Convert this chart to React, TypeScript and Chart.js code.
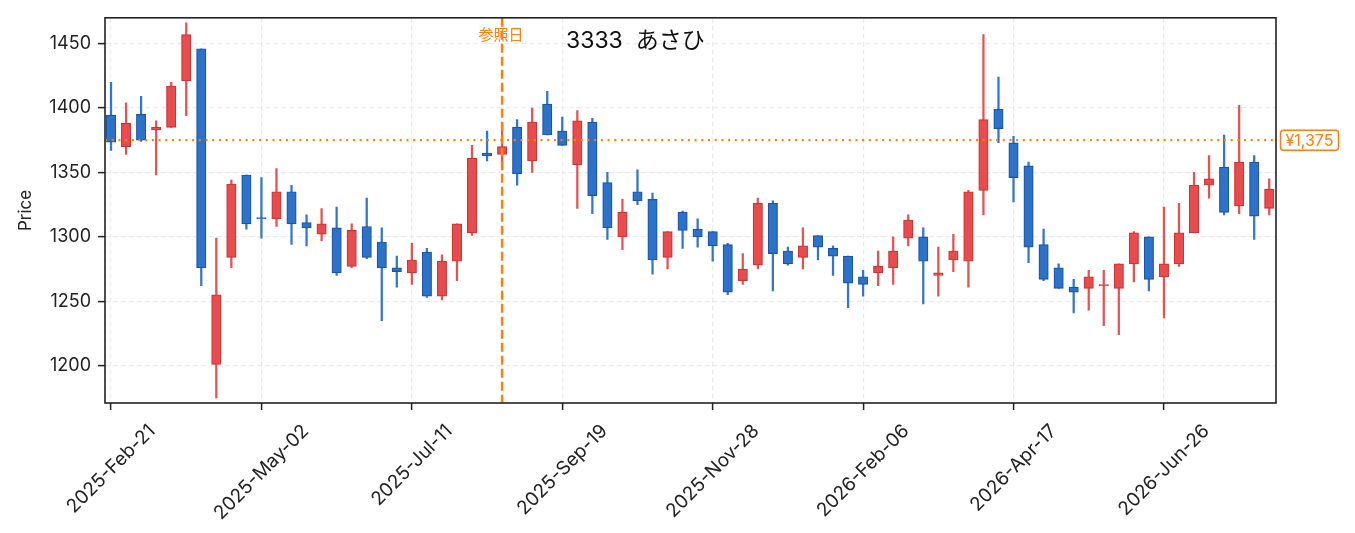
import { useEffect, useRef } from "react";
import { Chart, registerables } from "chart.js";

Chart.register(...registerables);

// weekly candles, 2025-02-21 .. 2026-08-14
const opens = [
  1394.5, 1370, 1395, 1383, 1385, 1421, 1446, 1201, 1284, 1348,
  1315, 1314, 1335, 1311, 1302, 1307, 1277, 1308, 1296, 1276,
  1272, 1288, 1254, 1281, 1303, 1365, 1364, 1385, 1359, 1403,
  1382, 1356, 1389, 1342, 1300, 1335, 1329, 1284, 1319, 1306,
  1304, 1294, 1266, 1278, 1326, 1289, 1284, 1301, 1291, 1285,
  1269, 1272, 1276, 1299, 1300, 1270, 1282, 1281, 1336, 1399,
  1373, 1355, 1294, 1276, 1261, 1260, 1262, 1260, 1279, 1300,
  1269, 1279, 1303, 1340, 1354, 1324, 1358, 1322,
];
const highs = [
  1420, 1404, 1409, 1390, 1420, 1466, 1446, 1299, 1344, 1348,
  1346, 1353, 1340, 1317, 1322, 1323, 1310, 1330, 1307, 1285,
  1295, 1291, 1286, 1310, 1371, 1382, 1388, 1391, 1400, 1413,
  1393, 1398, 1392, 1350, 1329, 1352, 1334, 1304, 1320, 1314,
  1304, 1295, 1287, 1330, 1328, 1292, 1307, 1301, 1293, 1285,
  1274, 1289, 1300, 1317, 1307, 1292, 1302, 1336, 1457, 1424,
  1378, 1358, 1306, 1279, 1267, 1274, 1274, 1279, 1304, 1300,
  1323, 1326, 1350, 1363, 1379, 1402, 1363, 1345,
];
const lows = [
  1367, 1364, 1374, 1348, 1385, 1394, 1262, 1175, 1276, 1306,
  1299, 1308, 1294, 1293, 1297, 1270, 1276, 1283, 1235, 1261,
  1263, 1253, 1251, 1266, 1301, 1359, 1352, 1340, 1350, 1379,
  1371, 1322, 1318, 1298, 1290, 1325, 1271, 1275, 1291, 1292,
  1281, 1255, 1263, 1275, 1258, 1278, 1275, 1282, 1270, 1245,
  1254, 1262, 1263, 1293, 1248, 1254, 1273, 1261, 1317, 1373,
  1327, 1280, 1266, 1260, 1241, 1243, 1231, 1224, 1265, 1258,
  1237, 1277, 1303, 1330, 1317, 1318, 1298, 1317,
];
const closes = [
  1373.5, 1388, 1375, 1385, 1417, 1457, 1276, 1255, 1341, 1310,
  1314, 1335, 1310, 1307, 1310, 1272, 1305, 1284, 1276, 1273,
  1282, 1254, 1281, 1310, 1361, 1363, 1370, 1349, 1389, 1379,
  1371, 1390, 1332, 1307, 1319, 1328, 1282, 1304, 1305, 1300,
  1293, 1257, 1275, 1326, 1287, 1279, 1293, 1292, 1285, 1264,
  1263, 1277, 1289, 1313, 1281, 1272, 1289, 1335, 1391, 1384,
  1346, 1292, 1267, 1260, 1257, 1269, 1263, 1279, 1303, 1267,
  1279, 1303, 1340, 1345, 1319, 1358, 1316, 1337,
];

const tickIndex = [0, 10, 20, 30, 40, 50, 60, 70];
const tickLabels = [
  "2025-Feb-21", "2025-May-02", "2025-Jul-11", "2025-Sep-19",
  "2025-Nov-28", "2026-Feb-06", "2026-Apr-17", "2026-Jun-26",
];
const yTicks = [1200, 1250, 1300, 1350, 1400, 1450];

const refIndex = 26;
const refPrice = 1375;
const refLabel = "参照日";
const priceLabel = "¥1,375";
const title = "3333  あさひ";

const FONT = '"Inter", "Noto Sans CJK JP", sans-serif';
const ORANGE = "#ff7f0e";
const INK = "#222222";

const overlay = {
  id: "overlay",
  afterDraw(chart: any) {
    const { ctx, chartArea: a, scales } = chart;
    const xs = scales.x;
    const ys = scales.y;
    ctx.save();

    // reference price line
    const yr = ys.getPixelForValue(refPrice);
    ctx.strokeStyle = ORANGE;
    ctx.lineWidth = 2.2;
    ctx.setLineDash([2, 4.7]);
    ctx.beginPath();
    ctx.moveTo(a.left, yr);
    ctx.lineTo(a.right, yr);
    ctx.stroke();

    // reference date line
    const xr = xs.getPixelForValue(refIndex);
    ctx.lineWidth = 2.5;
    ctx.setLineDash([9, 4]);
    ctx.beginPath();
    ctx.moveTo(xr, a.top);
    ctx.lineTo(xr, a.bottom);
    ctx.stroke();
    ctx.setLineDash([]);

    ctx.fillStyle = ORANGE;
    ctx.font = `15px ${FONT}`;
    ctx.textAlign = "center";
    ctx.textBaseline = "middle";
    ctx.fillText(refLabel, xr - 1, 35);

    // title
    ctx.fillStyle = "#111";
    ctx.font = `23px ${FONT}`;
    ctx.textAlign = "left";
    ctx.fillText(title, 566, 41);

    // frame
    ctx.strokeStyle = INK;
    ctx.lineWidth = 1.6;
    ctx.strokeRect(a.left, a.top, a.right - a.left, a.bottom - a.top);

    // price box
    ctx.font = `16px ${FONT}`;
    const tw = ctx.measureText(priceLabel).width;
    const bx = a.right + 4.5;
    const bw = tw + 10;
    const bh = 20;
    ctx.fillStyle = "#fff";
    ctx.strokeStyle = ORANGE;
    ctx.lineWidth = 1.5;
    ctx.beginPath();
    ctx.roundRect(bx, yr - bh / 2, bw, bh, 3);
    ctx.fill();
    ctx.stroke();
    ctx.fillStyle = ORANGE;
    ctx.textAlign = "left";
    ctx.fillText(priceLabel, bx + 5, yr + 1);

    // y title
    ctx.fillStyle = INK;
    ctx.font = `17px ${FONT}`;
    ctx.save();
    ctx.translate(25.5, (a.top + a.bottom) / 2);
    ctx.rotate(-Math.PI / 2);
    ctx.textAlign = "center";
    ctx.fillText("Price", 0, 0);
    ctx.restore();

    // x tick labels, rotated 45deg, box centred under tick
    ctx.font = `19px ${FONT}`;
    ctx.textAlign = "right";
    ctx.textBaseline = "middle";
    const h = 14;
    tickIndex.forEach((v, i) => {
      const tx = xs.getPixelForValue(v);
      const w = ctx.measureText(tickLabels[i]).width;
      ctx.save();
      ctx.translate(tx + 0.354 * w, a.bottom + 20 + 0.354 * h);
      ctx.rotate(-Math.PI / 4);
      ctx.fillText(tickLabels[i], 0, 0);
      ctx.restore();
    });

    ctx.restore();
  },
};

export default function App() {
  const canvasRef = useRef<HTMLCanvasElement | null>(null);

  useEffect(() => {
    if (!canvasRef.current) return;
    const idx = opens.map((_, i) => i);
    const up = idx.map((i) => closes[i] >= opens[i]);

    const chart = new Chart(canvasRef.current, {
      type: "bar",
      data: {
        datasets: [
          {
            label: "body",
            data: idx.map((i) => ({ x: i, y: [opens[i], closes[i]] })) as any,
            backgroundColor: up.map((u) => (u ? "#e84c4c" : "#2c72c8")),
            borderColor: up.map((u) => (u ? "#cc3535" : "#1d55a5")),
            borderWidth: 1.2,
            borderSkipped: false,
            barThickness: 9.4,
            grouped: false,
            order: 1,
          } as any,
          {
            label: "wick",
            data: idx.map((i) => ({ x: i, y: [lows[i], highs[i]] })) as any,
            backgroundColor: up.map((u) => (u ? "#e65252" : "#3076cc")),
            borderWidth: 0,
            barThickness: 1.6,
            grouped: false,
            order: 2,
          } as any,
        ],
      },
      options: {
        animation: false,
        responsive: true,
        maintainAspectRatio: false,
        layout: { padding: { left: 0, top: 15, right: 79, bottom: 0 } },
        plugins: { legend: { display: false }, tooltip: { enabled: false } },
        scales: {
          x: {
            type: "linear",
            min: -0.4,
            max: 77.45,
            offset: false,
            afterBuildTicks: (s: any) => {
              s.ticks = tickIndex.map((v) => ({ value: v }));
            },
            afterFit: (s: any) => {
              s.height = 130;
            },
            ticks: { display: false },
            grid: {
              offset: false,
              color: "#ebebeb",
              lineWidth: 1.2,
              tickColor: INK,
              tickLength: 7,
              tickWidth: 1.5,
            },
            border: { display: false, dash: [5, 3] },
          },
          y: {
            type: "linear",
            min: 1171,
            max: 1470,
            afterBuildTicks: (s: any) => {
              s.ticks = yTicks.map((v) => ({ value: v }));
            },
            afterFit: (s: any) => {
              s.width = 105;
            },
            ticks: {
              color: INK,
              padding: 7,
              font: { family: FONT, size: 18 },
              callback: (v: any) => String(v),
            },
            grid: {
              color: "#ebebeb",
              lineWidth: 1.2,
              tickColor: INK,
              tickLength: 7,
              tickWidth: 1.5,
            },
            border: { display: false, dash: [5, 3] },
          },
        },
      },
      plugins: [overlay],
    });

    return () => chart.destroy();
  }, []);

  return (
    <div
      style={{
        position: "absolute",
        left: 0,
        top: 0,
        width: 1355,
        height: 533,
        background: "#fff",
      }}
    >
      <canvas ref={canvasRef} />
    </div>
  );
}
